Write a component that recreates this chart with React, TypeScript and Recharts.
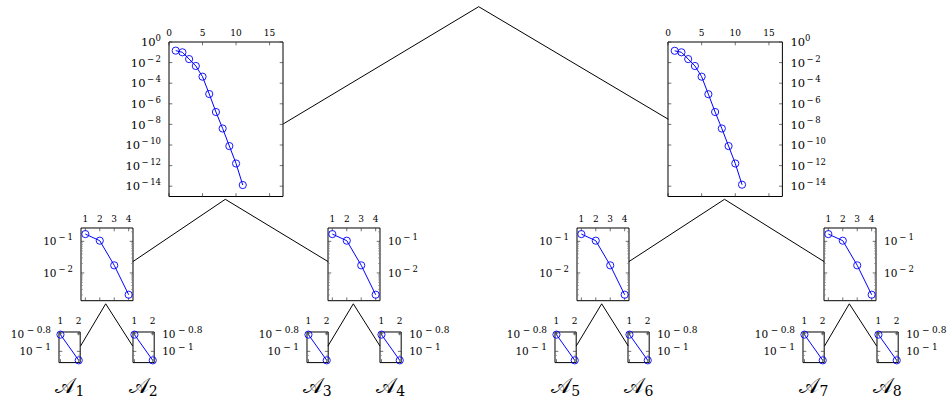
import React from 'react';
import { LineChart, Line, XAxis, YAxis } from 'recharts';

const FONT = '"DejaVu Serif", serif';
const BLUE = '#0000ff';

// root children: convergence curves
const bigX = [1, 2, 3, 4, 5, 6, 7, 8, 9, 10, 11];
const bigYLeft = [1.45e-1, 1.0e-1, 2.2e-2, 4.7e-3, 4.3e-4, 8.9e-6, 1.6e-7, 4.0e-9, 7.9e-11, 1.6e-12, 1.3e-14];
const bigYRight = [1.4e-1, 1.0e-1, 2.2e-2, 4.7e-3, 4.3e-4, 8.5e-6, 1.6e-7, 4.0e-9, 7.9e-11, 1.6e-12, 1.4e-14];
const bigXTicks = [0, 5, 10, 15];
const bigYTicks = [1, 1e-2, 1e-4, 1e-6, 1e-8, 1e-10, 1e-12, 1e-14];

// second level
const midX = [1, 2, 3, 4];
const midY = [1.7e-1, 1.05e-1, 1.74e-2, 2.04e-3];
const midXTicks = [1, 2, 3, 4];
const midYTicks = [1e-1, 1e-2];
const midYMinor = [
  0.002, 0.003, 0.004, 0.005, 0.006, 0.007, 0.008, 0.009,
  0.02, 0.03, 0.04, 0.05, 0.06, 0.07, 0.08, 0.09, 0.2,
];

// leaves
const leafX = [1, 2];
const leafY = [1.55e-1, 7.9e-2];
const leafXTicks = [1, 2];
const leafYTicks = [0.158489, 0.1];
const leafYMinor = [0.09, 0.08];
const leafNames = ['1', '2', '3', '4', '5', '6', '7', '8'];

// layout (page pixels)
const apex = { x: 478.7, y: 6.7 };
const bigL = { x: 169.3, y: 42, w: 114, h: 154.5 };
const bigR = { x: 668.3, y: 42, w: 114.4, h: 154.5 };
const midXs = [80.7, 328.3, 576.7, 824.3];
const midBox = (i: number) => ({ x: midXs[i], y: 228.3, w: 52, h: 72.7 });
const leafXs = [59.3, 132.7, 306.7, 380, 555, 628.3, 803.3, 876.7];
const leafBox = (i: number) => ({ x: leafXs[i], y: 331.7, w: 21.2, h: 30.6 });

type Box = { x: number; y: number; w: number; h: number };

const THIN = 0.01; // mirrored axes must have a non-zero size to render
const noLabel = () => <g />;

function expLabel(v: number) {
  const e = Math.round(Math.log10(v) * 10) / 10;
  if (e === 0) return '0';
  return e < 0 ? '\u2212' + String(-e) : String(e);
}

function makeYTick(base: number, sup: number, gap: number) {
  return (p: any) => {
    const lab = expLabel(p.payload.value);
    const neg = lab.startsWith('\u2212');
    return (
      <text
        x={p.x}
        y={p.y + base * 0.36}
        textAnchor={p.textAnchor}
        fontFamily={FONT}
        fontSize={base}
        fill="#000"
      >
        10
        <tspan dy={-base * 0.45} dx={gap} fontSize={sup}>
          {neg ? '\u2212' : ''}
          <tspan dx={neg ? gap : 0}>{neg ? lab.slice(1) : lab}</tspan>
        </tspan>
      </text>
    );
  };
}

function makeXTick(size: number) {
  return (p: any) => (
    <text x={p.x} y={p.y} textAnchor="middle" fontFamily={FONT} fontSize={size} fill="#000">
      {p.payload.value}
    </text>
  );
}

interface PanelProps {
  box: Box;
  side: 'left' | 'right';
  xs: number[];
  ys: number[];
  xDomain: [number, number];
  yDomain: [number, number];
  xTicks: number[];
  yTicks: number[];
  yMinor?: number[];
  xFont: number;
  xGap: number;
  yBase: number;
  ySup: number;
  supGap: number;
  tick: number;
}

function Panel(props: PanelProps) {
  const { box, side, xs, ys, xDomain, yDomain, xTicks, yTicks, yMinor, xFont, xGap, yBase, ySup, supGap, tick } =
    props;
  const padL = 70;
  const padR = 70;
  const padT = 24;
  const padB = 6;
  const labW = 62;
  const labH = 18;
  const data = xs.map((x, i) => ({ x, y: ys[i] }));
  const tickStroke = { stroke: '#333', strokeWidth: 0.7 };
  const minorStroke = { stroke: '#777', strokeWidth: 0.6 };
  const frame = { stroke: '#000', strokeWidth: 1 };
  return (
    <div style={{ position: 'absolute', left: box.x - padL, top: box.y - padT }}>
      <LineChart
        width={box.w + padL + padR}
        height={box.h + padT + padB}
        data={data}
        margin={{
          top: padT - labH,
          bottom: padB,
          left: side === 'left' ? padL - labW : padL,
          right: side === 'right' ? padR - labW : padR,
        }}
      >
        <XAxis
          xAxisId="m"
          dataKey="x"
          type="number"
          orientation="top"
          domain={xDomain}
          allowDataOverflow
          ticks={xTicks}
          interval={0}
          height={labH}
          tickLine={false}
          axisLine={false}
          tickSize={0}
          tickMargin={xGap}
          tick={makeXTick(xFont)}
        />
        {(['top', 'bottom'] as const).map((o) => (
          <XAxis
            key={'x' + o}
            xAxisId={'x' + o}
            dataKey="x"
            type="number"
            orientation={o}
            mirror
            height={THIN}
            domain={xDomain}
            allowDataOverflow
            ticks={xTicks}
            interval={0}
            tick={noLabel}
            tickSize={tick}
            tickLine={tickStroke}
            axisLine={frame}
          />
        ))}
        <YAxis
          yAxisId="m"
          dataKey="y"
          type="number"
          scale="log"
          orientation={side}
          width={labW}
          domain={yDomain}
          allowDataOverflow
          ticks={yTicks}
          interval={0}
          tickLine={false}
          axisLine={false}
          tickSize={0}
          tickMargin={8}
          tick={makeYTick(yBase, ySup, supGap)}
        />
        {(['left', 'right'] as const).map((o) => (
          <YAxis
            key={'maj' + o}
            yAxisId={'maj' + o}
            dataKey="y"
            type="number"
            scale="log"
            orientation={o}
            mirror
            width={THIN}
            domain={yDomain}
            allowDataOverflow
            ticks={yTicks}
            interval={0}
            tick={noLabel}
            tickSize={tick}
            tickLine={tickStroke}
            axisLine={frame}
          />
        ))}
        {yMinor &&
          (['left', 'right'] as const).map((o) => (
            <YAxis
              key={'min' + o}
              yAxisId={'min' + o}
              dataKey="y"
              type="number"
              scale="log"
              orientation={o}
              mirror
              width={THIN}
              domain={yDomain}
              allowDataOverflow
              ticks={yMinor}
              interval={0}
              tick={noLabel}
              tickSize={tick * 0.6}
              tickLine={minorStroke}
              axisLine={false}
            />
          ))}
        <Line
          xAxisId="m"
          yAxisId="m"
          dataKey="y"
          stroke={BLUE}
          strokeWidth={1}
          dot={{ r: 3.6, stroke: BLUE, strokeWidth: 0.9, fill: 'none', clipDot: false }}
          isAnimationActive={false}
        />
      </LineChart>
    </div>
  );
}

const sideOf = (i: number): 'left' | 'right' => (i % 2 === 0 ? 'left' : 'right');

function Connectors() {
  const segs: [number, number, number, number][] = [];
  const bottom = (b: Box) => [b.x + b.w / 2 - 1, b.y + b.h + 2.8];
  segs.push([apex.x, apex.y, bigL.x + bigL.w, bigL.y + bigL.h * 0.53]);
  segs.push([apex.x, apex.y, bigR.x, bigR.y + bigR.h * 0.5]);
  [bigL, bigR].forEach((p, k) => {
    const [sx, sy] = bottom(p);
    const a = midBox(2 * k);
    const b = midBox(2 * k + 1);
    segs.push([sx, sy, a.x + a.w, a.y + a.h * 0.46]);
    segs.push([sx, sy, b.x, b.y + b.h * 0.46]);
  });
  [0, 1, 2, 3].forEach((k) => {
    const [sx, sy] = bottom(midBox(k));
    const a = leafBox(2 * k);
    const b = leafBox(2 * k + 1);
    segs.push([sx, sy, a.x + a.w, a.y + a.h * 0.47]);
    segs.push([sx, sy, b.x, b.y + b.h * 0.47]);
  });
  return (
    <svg
      width={947}
      height={399}
      style={{ position: 'absolute', left: 0, top: 0, pointerEvents: 'none' }}
    >
      {segs.map((s, i) => (
        <line key={i} x1={s[0]} y1={s[1]} x2={s[2]} y2={s[3]} stroke="#000" strokeWidth={1} />
      ))}
      {leafNames.map((n, i) => {
        const b = leafBox(i);
        return (
          <text
            key={n}
            x={b.x + b.w / 2}
            y={393}
            textAnchor="middle"
            fontFamily='"DejaVu Serif", "DejaVu Sans", serif'
            fontSize={21}
            fill="#000"
          >
            {'\u{1D49C}'}
            <tspan dy={3} fontSize={14}>
              {n}
            </tspan>
          </text>
        );
      })}
    </svg>
  );
}

export default function App() {
  return (
    <div style={{ position: 'absolute', left: 0, top: 0, width: 947, height: 399, background: '#fff' }}>
      <Panel
        box={bigL}
        side="left"
        xs={bigX}
        ys={bigYLeft}
        xDomain={[0, 17]}
        yDomain={[1e-15, 1]}
        xTicks={bigXTicks}
        yTicks={bigYTicks}
        xFont={9}
        xGap={6}
        yBase={11.5}
        ySup={8.5}
        supGap={1.5}
        tick={3.3}
      />
      <Panel
        box={bigR}
        side="right"
        xs={bigX}
        ys={bigYRight}
        xDomain={[0, 17]}
        yDomain={[1e-15, 1]}
        xTicks={bigXTicks}
        yTicks={bigYTicks}
        xFont={9}
        xGap={6}
        yBase={11.5}
        ySup={8.5}
        supGap={1.5}
        tick={3.3}
      />
      {[0, 1, 2, 3].map((i) => (
        <Panel
          key={'mid' + i}
          box={midBox(i)}
          side={sideOf(i)}
          xs={midX}
          ys={midY}
          xDomain={[0.7, 4.3]}
          yDomain={[1.32e-3, 2.65e-1]}
          xTicks={midXTicks}
          yTicks={midYTicks}
          yMinor={midYMinor}
          xFont={9}
          xGap={6}
          yBase={10.5}
          ySup={8.5}
          supGap={2}
          tick={3.3}
        />
      ))}
      {leafNames.map((n, i) => (
        <Panel
          key={'leaf' + n}
          box={leafBox(i)}
          side={sideOf(i)}
          xs={leafX}
          ys={leafY}
          xDomain={[0.92, 2.08]}
          yDomain={[0.0745, 0.166]}
          xTicks={leafXTicks}
          yTicks={leafYTicks}
          yMinor={leafYMinor}
          xFont={9}
          xGap={7.5}
          yBase={10.5}
          ySup={9}
          supGap={2.5}
          tick={3.3}
        />
      ))}
      <Connectors />
    </div>
  );
}
